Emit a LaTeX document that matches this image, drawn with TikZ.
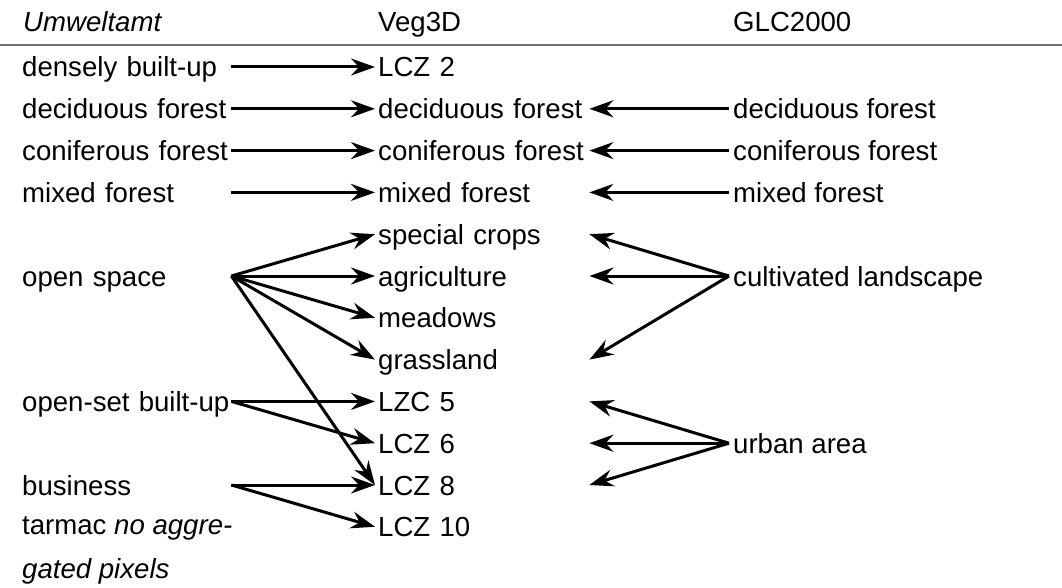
\documentclass[tikz,border=0pt]{standalone}
\usepackage{fontspec}
\setmainfont{Liberation Sans}
\usepackage{xcolor}
\usepackage{tikz}
\usetikzlibrary{arrows.meta, positioning}
\hyphenpenalty=10000
\exhyphenpenalty=10000
\definecolor{maprule}{HTML}{6E6E6E}
\definecolor{mapdark}{HTML}{000000}
\tikzset{
  lbl/.style={font=\fontsize{27.6}{44}\selectfont, text=mapdark, inner xsep=0pt,
              inner ysep=0pt, text height=20pt, text depth=0pt, anchor=west},
  headlbl/.style={lbl},
  srcbox/.style={lbl, text width=209pt, align=left},
  vegbox/.style={lbl, inner xsep=3pt, text width=208pt, align=left},
  glcbox/.style={lbl, inner xsep=4pt},
  flow/.style={-{Stealth[length=24pt, width=17pt, inset=8pt]}, line width=3pt, draw=mapdark},
  rulebar/.style={line width=2pt, draw=maprule},
}

\begin{document}
\begin{tikzpicture}[x=1pt, y=-1pt]
  \useasboundingbox (0,0) rectangle (1062,588);

  \node[headlbl, font=\fontsize{27.6}{44}\selectfont\itshape] (hUmw) at (23,22) {Umweltamt};
  \node[headlbl] (hVeg) at (378,22) {Veg3D};
  \node[headlbl] (hGlc) at (733,22) {GLC2000};
  \coordinate (ruleL) at (0,45);
  \coordinate (ruleR) at (1062,45);
  \draw[rulebar] (ruleL) -- (ruleR);

  \node[srcbox] (u1) at (22,67) {densely built-up};
  \node[srcbox] (u2) at (22,108.8) {deciduous forest};
  \node[srcbox] (u3) at (22,150.6) {coniferous forest};
  \node[srcbox] (u4) at (22,192.4) {mixed forest};
  \node[srcbox] (u5) at (22,276) {open space};
  \node[srcbox] (u6) at (22,401.4) {open-set built-up};
  \node[srcbox] (u7) at (22,485) {business};
  \node[lbl, align=left] (u8) at (22,568.8) {tarmac \textit{no aggre-}\\\textit{gated pixels}};

  \node[vegbox] (v1) at (375,67) {LCZ 2};
  \node[vegbox] (v2) at (375,108.8) {deciduous forest};
  \node[vegbox] (v3) at (375,150.6) {coniferous forest};
  \node[vegbox] (v4) at (375,192.4) {mixed forest};
  \node[vegbox] (v5) at (375,234.2) {special crops};
  \node[vegbox] (v6) at (375,276) {agriculture};
  \node[vegbox] (v7) at (375,317.8) {meadows};
  \node[vegbox] (v8) at (375,359.6) {grassland};
  \node[vegbox] (v9) at (375,401.4) {LZC 5};
  \node[vegbox] (v10) at (375,443.2) {LCZ 6};
  \node[vegbox] (v11) at (375,485) {LCZ 8};
  \node[vegbox] (v12) at (375,526.8) {LCZ 10};

  \node[glcbox] (g2) at (729,108.8) {deciduous forest};
  \node[glcbox] (g3) at (729,150.6) {coniferous forest};
  \node[glcbox] (g4) at (729,192.4) {mixed forest};
  \node[glcbox] (g5) at (729,276) {cultivated landscape};
  \node[glcbox] (g6) at (729,443.2) {urban area};

  % Umweltamt -> Veg3D
  \draw[flow] (u1.east) -- (v1.west);
  \draw[flow] (u2.east) -- (v2.west);
  \draw[flow] (u3.east) -- (v3.west);
  \draw[flow] (u4.east) -- (v4.west);
  \draw[flow] (u5.east) -- (v5.west);
  \draw[flow] (u5.east) -- (v6.west);
  \draw[flow] (u5.east) -- (v7.west);
  \draw[flow] (u5.east) -- (v8.west);
  \draw[flow] (u5.east) -- (v11.west);
  \draw[flow] (u6.east) -- (v9.west);
  \draw[flow] (u6.east) -- (v10.west);
  \draw[flow] (u7.east) -- (v11.west);
  \draw[flow] (u7.east) -- (v12.west);

  % GLC2000 -> Veg3D
  \draw[flow] (g2.west) -- (v2.east);
  \draw[flow] (g3.west) -- (v3.east);
  \draw[flow] (g4.west) -- (v4.east);
  \draw[flow] (g5.west) -- (v5.east);
  \draw[flow] (g5.west) -- (v6.east);
  \draw[flow] (g5.west) -- (v8.east);
  \draw[flow] (g6.west) -- (v9.east);
  \draw[flow] (g6.west) -- (v10.east);
  \draw[flow] (g6.west) -- (v11.east);
\end{tikzpicture}
\end{document}
